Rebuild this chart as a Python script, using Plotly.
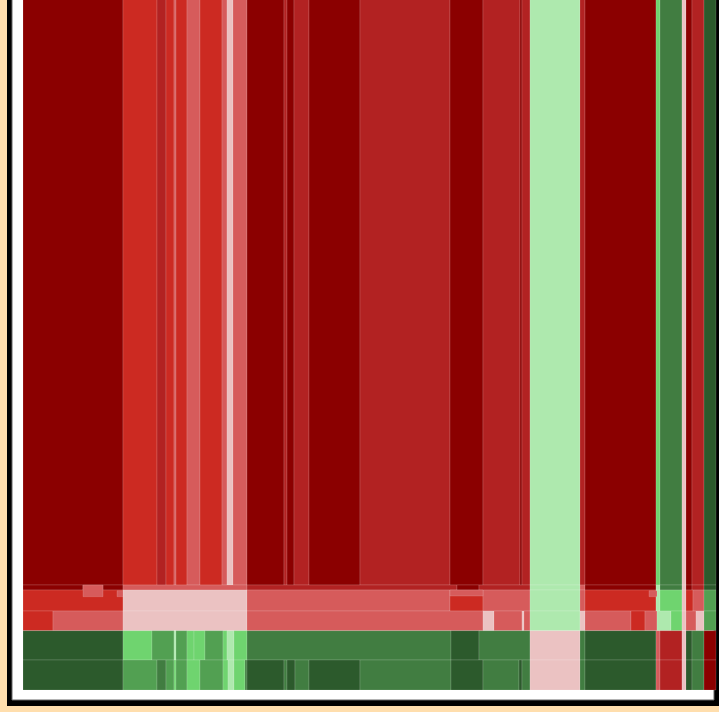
import plotly.graph_objects as go

# 10-step diverging palette (red -> green)
PALETTE = ["#8B0000", "#B22222", "#CC2A22", "#D65B5B", "#EBC2C2",
           "#AEE9AE", "#6FD46F", "#52A052", "#417D41", "#2C5A2C"]

# ---- data: segment boundaries (x) and colour levels per row ----
top_bounds = [0, 100, 134, 143, 151, 153, 164, 177, 199, 204, 210, 224, 261, 264, 271, 286,
              337, 427, 460, 497, 499, 507, 557, 562, 633, 637, 659, 663, 669, 681, 693]
top_levels = [0, 2, 1, 2, 3, 2, 3, 2, 3, 4, 3, 0, 1, 0, 1, 0, 1, 0, 1, 0, 1,
              5, 1, 0, 6, 8, 4, 0, 1, 9]
top_span = (105, 800)

edge_bounds = [0, 60, 80, 100, 224, 434, 456, 507, 557, 562, 633, 637, 659, 663, 669, 681, 693]
edge_levels = [0, 3, 0, 3, 1, 0, 1, 5, 3, 0, 5, 8, 4, 0, 1, 9]
edge_span = (100, 105)

mid_hi_bounds = [0, 100, 224, 427, 460, 507, 557, 562, 633, 637, 659, 663, 670, 681, 693]
mid_hi_levels = [2, 4, 3, 2, 3, 5, 3, 2, 5, 6, 4, 2, 3, 7]
mid_hi_span = (79, 100)

mid_lo_bounds = [0, 30, 100, 224, 460, 471, 499, 501, 507, 557, 562, 608, 622, 634,
                 648, 659, 663, 673, 681, 693]
mid_lo_levels = [2, 3, 4, 3, 4, 3, 4, 3, 5, 4, 3, 2, 3, 5, 6, 4, 3, 4, 7]
mid_lo_span = (59.3, 79)

grp_bounds = [0, 100, 129, 151, 153, 164, 171, 182, 200, 204, 211, 224, 428, 456, 507,
              557, 562, 633, 637, 659, 663, 669, 681, 693]
grp_levels = [9, 6, 7, 5, 7, 6, 6, 7, 6, 5, 6, 8, 9, 8, 4, 8, 9, 3, 1, 4, 9, 8, 0]
grp_span = (30, 59.3)

leaf_bounds = [0, 100, 134, 143, 151, 153, 164, 177, 200, 205, 211, 222, 224, 261, 264,
               272, 286, 337, 428, 460, 496, 499, 507, 557, 562, 633, 637, 659, 663,
               669, 681, 693]
leaf_levels = [9, 7, 8, 7, 6, 7, 6, 7, 6, 5, 6, 8, 9, 8, 9, 8, 9, 8, 9, 8, 9, 8,
               4, 8, 9, 3, 1, 4, 9, 8, 0]
leaf_span = (0, 30)

# small overlapping tiles: x0, x1, y0, y1, level
extra_x0 = [60, 94, 626, 427]
extra_x1 = [80, 100, 634, 460]
extra_y0 = [93.3, 93.3, 93.3, 94]
extra_y1 = [105, 99.3, 99.3, 100]
extra_lv = [3, 3, 3, 3]

fig = go.Figure()
LINE = dict(color="rgba(255,255,255,0.14)", width=1)


def add_row(bounds, levels, span, name):
    xs = [(a + b) / 2 for a, b in zip(bounds[:-1], bounds[1:])]
    ws = [b - a for a, b in zip(bounds[:-1], bounds[1:])]
    fig.add_trace(go.Bar(
        x=xs, width=ws, base=[span[0]] * len(xs), y=[span[1] - span[0]] * len(xs),
        marker=dict(color=[PALETTE[l] for l in levels], line=LINE, opacity=1),
        name=name, hoverinfo="skip"))


add_row(top_bounds, top_levels, top_span, "top")
add_row(edge_bounds, edge_levels, edge_span, "edge")
add_row(mid_hi_bounds, mid_hi_levels, mid_hi_span, "mid_hi")
add_row(mid_lo_bounds, mid_lo_levels, mid_lo_span, "mid_lo")
add_row(grp_bounds, grp_levels, grp_span, "group")
add_row(leaf_bounds, leaf_levels, leaf_span, "leaf")

fig.add_trace(go.Bar(
    x=[(a + b) / 2 for a, b in zip(extra_x0, extra_x1)],
    width=[b - a for a, b in zip(extra_x0, extra_x1)],
    base=extra_y0, y=[b - a for a, b in zip(extra_y0, extra_y1)],
    marker=dict(color=[PALETTE[l] for l in extra_lv], line=LINE, opacity=1),
    name="extra", hoverinfo="skip"))

W, H = 719, 712
fig.update_layout(
    width=W, height=H, margin=dict(l=0, r=0, t=0, b=0),
    paper_bgcolor="#FFDEAD", plot_bgcolor="rgba(0,0,0,0)",
    barmode="overlay", showlegend=False,
    xaxis=dict(range=[-23, 696], visible=False, fixedrange=True),
    yaxis=dict(range=[-22, 690], visible=False, fixedrange=True),
    shapes=[
        dict(type="rect", xref="paper", yref="paper", x0=7 / W, x1=1.2,
             y0=(H - 706) / H, y1=1.2, fillcolor="black", line=dict(width=0), layer="below"),
        dict(type="rect", xref="paper", yref="paper", x0=12 / W, x1=714 / W,
             y0=(H - 700) / H, y1=1.2, fillcolor="white",
             line=dict(color="#666666", width=1), layer="below"),
    ],
)

fig.write_html(
    "out.html",
    config={"displayModeBar": False},
    post_script="document.body.style.margin='0';document.body.style.overflow='hidden';"
                "document.body.style.background='#FFDEAD';",
)
